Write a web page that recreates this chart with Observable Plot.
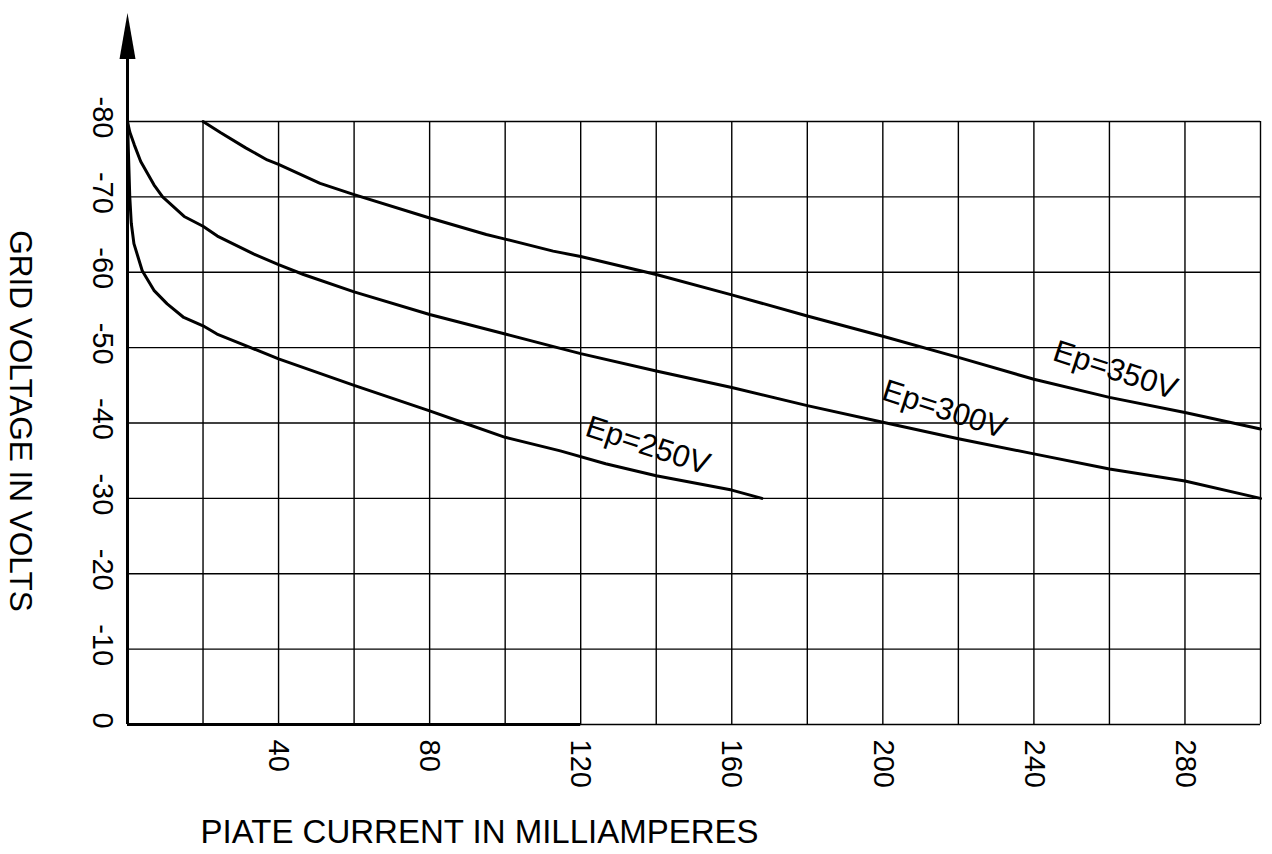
<!DOCTYPE html>
<html>
<head>
<meta charset="utf-8">
<script src="https://cdn.jsdelivr.net/npm/d3@7"></script>
<script src="https://cdn.jsdelivr.net/npm/@observablehq/plot@0.6"></script>
<style>
  html, body { margin: 0; padding: 0; background: #fff; }
</style>
</head>
<body>
<div id="chart"></div>
<script>
// Tick labels
const xTicks = [40, 80, 120, 160, 200, 240, 280];
const yTicks = [0, -10, -20, -30, -40, -50, -60, -70, -80];
const xGrid = [20, 40, 60, 80, 100, 120, 140, 160, 180, 200, 220, 240, 260, 280, 300];
const yGrid = [-10, -20, -30, -40, -50, -60, -70, -80];

// Ep = 250 V
const current250 = [0, 0.3, 0.6, 1.0, 1.7, 3.9, 7, 10.5, 14.9, 20, 23.7, 32.6, 40, 60, 80, 88, 100, 114.6, 126.6, 140, 160, 168];
const grid250 =    [-80, -75, -70, -66.5, -63.8, -60.2, -57.6, -55.8, -54.0, -52.9, -51.8, -50.0, -48.5, -45.0, -41.6, -40.2, -38.1, -36.3, -34.6, -33.0, -31.1, -30];

// Ep = 300 V
const current300 = [0, 0.6, 1.8, 3.5, 7, 9.3, 15, 20, 23.8, 33.5, 40, 46.6, 60, 80, 100, 114.6, 120, 140, 160, 180, 200, 220, 240, 260, 280, 300];
const grid300 =    [-80, -78.6, -76.9, -74.7, -71.6, -70, -67.4, -66.1, -64.8, -62.4, -61.0, -59.7, -57.4, -54.4, -51.8, -49.9, -49.2, -46.9, -44.7, -42.3, -40.1, -37.9, -35.9, -33.9, -32.3, -30.0];

// Ep = 350 V
const current350 = [20, 24.7, 31.3, 37, 40, 51, 60, 80, 95, 100, 112.7, 120, 140, 160, 180, 200, 220, 240, 260, 280, 300];
const grid350 =    [-80, -78.5, -76.5, -74.9, -74.3, -71.8, -70.3, -67.2, -65.0, -64.4, -62.8, -62.1, -59.7, -57.0, -54.2, -51.5, -48.7, -45.8, -43.4, -41.4, -39.2];

// Curve labels
const curveLabels = ["Ep=250V", "Ep=300V", "Ep=350V"];
const labelCurrent = [137.8, 216.3, 261.6];
const labelGrid = [-37.0, -41.8, -47.0];

// Axis extension (arrow)
const axisTop = -88.3;

const series = [
  ...current250.map((x, i) => ({x, y: grid250[i], s: "250"})),
  ...current300.map((x, i) => ({x, y: grid300[i], s: "300"})),
  ...current350.map((x, i) => ({x, y: grid350[i], s: "350"}))
];
const labels = curveLabels.map((t, i) => ({t, x: labelCurrent[i], y: labelGrid[i]}));

const arrowHead = {
  draw(context) {
    context.moveTo(0, -46);
    context.lineTo(8, 0);
    context.lineTo(-8, 0);
    context.closePath();
  }
};

const chart = Plot.plot({
  width: 1272,
  height: 854,
  marginLeft: 127,
  marginRight: 12,
  marginTop: 121,
  marginBottom: 130,
  x: {domain: [0, 300]},
  y: {domain: [0, -80]},
  style: {
    fontFamily: "'Liberation Sans', Arial, sans-serif",
    fontSize: "29px",
    background: "white",
    color: "black",
    overflow: "visible"
  },
  marks: [
    Plot.ruleX(xGrid, {y1: 0, y2: -80, stroke: "black", strokeWidth: 1.4}),
    Plot.ruleY(yGrid, {x1: 0, x2: 300, stroke: "black", strokeWidth: 1.4}),
    Plot.ruleY([0], {x1: 0, x2: 300, stroke: "black", strokeWidth: 1.4}),
    Plot.ruleY([0], {x1: 0, x2: 120, stroke: "black", strokeWidth: 3}),
    Plot.ruleX([0], {y1: 0, y2: axisTop, stroke: "black", strokeWidth: 3}),
    Plot.dot([0], {x: 0, y: axisTop, symbol: arrowHead, fill: "black", stroke: "none"}),
    Plot.line(series, {x: "x", y: "y", z: "s", stroke: "black", strokeWidth: 3, strokeLinejoin: "round"}),
    Plot.text(labels, {x: "x", y: "y", text: "t", rotate: 18, fontSize: 31, fill: "black"}),
    Plot.axisX(xTicks, {tickSize: 0, tickRotate: 90, tickPadding: 15, fontSize: 29, label: null, tickFormat: d => `${d}`}),
    Plot.axisY(yTicks, {tickSize: 0, tickRotate: 90, tickPadding: 14, fontSize: 29, dy: -4, label: null, tickFormat: d => `${d}`}),
    Plot.text(["PIATE CURRENT IN MILLIAMPERES"], {frameAnchor: "bottom-left", dx: 73, dy: 108, textAnchor: "start", lineAnchor: "middle", fontSize: 33, fill: "black"}),
    Plot.text(["GRID VOLTAGE IN VOLTS"], {frameAnchor: "left", dx: -107, dy: -2, rotate: 90, textAnchor: "middle", lineAnchor: "middle", fontSize: 31.5, fill: "black"})
  ]
});
document.getElementById("chart").append(chart);
</script>
</body>
</html>
